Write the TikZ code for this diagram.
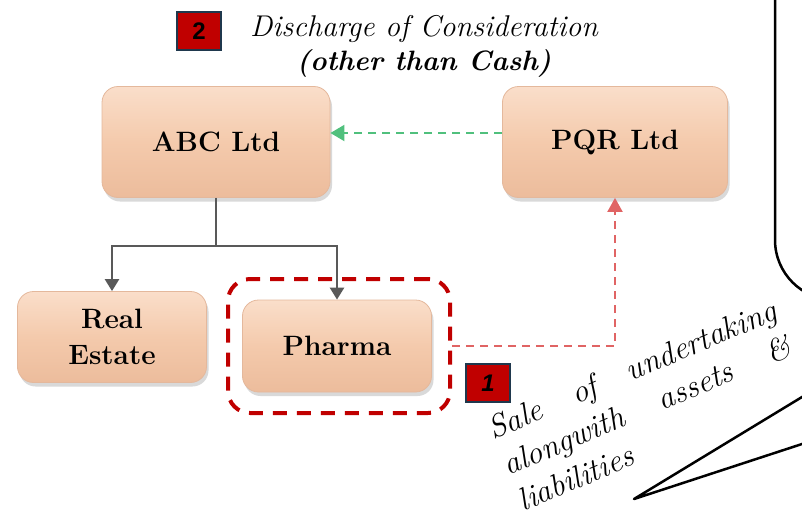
\documentclass[tikz,border=0pt]{standalone}
\usepackage{fontspec}
\newfontfamily\arialfont{Liberation Sans}
\usetikzlibrary{arrows.meta,shadows,calc}
\definecolor{peachtop}{RGB}{250,222,202}
\definecolor{peachmid}{RGB}{244,202,172}
\definecolor{peachbot}{RGB}{236,188,156}
\definecolor{peachedge}{RGB}{228,184,156}
\definecolor{darkred}{RGB}{192,0,0}
\definecolor{badgeborder}{RGB}{31,56,77}
\definecolor{connGrey}{RGB}{89,89,89}
\definecolor{greenArrow}{RGB}{80,192,125}
\definecolor{pinkArrow}{RGB}{224,100,100}
\begin{document}
\begin{tikzpicture}[x=1pt,y=-1pt,
  entity/.style={rounded corners=16pt, top color=peachtop, bottom color=peachbot,
    middle color=peachmid, draw=peachedge, line width=0.8pt,
    font=\fontsize{28}{36}\selectfont\bfseries, align=center, inner sep=0pt,
    drop shadow={shadow xshift=2pt, shadow yshift=-4pt, opacity=0.3}},
  badge/.style={fill=darkred, draw=badgeborder, line width=2pt,
    minimum width=44pt, minimum height=38pt, inner sep=0pt},
  treeconn/.style={draw=connGrey, line width=2.5pt,
    -{Triangle[width=14pt,length=12pt]}},
  greenconn/.style={draw=greenArrow, line width=2pt, dash pattern=on 8pt off 6pt,
    -{Triangle[width=16pt,length=14pt]}},
  pinkconn/.style={draw=pinkArrow, line width=2pt, dash pattern=on 8pt off 6pt,
    -{Triangle[width=15pt,length=14pt]}},
  groupbox/.style={draw=darkred, line width=4pt, dash pattern=on 14pt off 10pt,
    rounded corners=22pt, minimum width=222pt, minimum height=134pt, inner sep=0pt},
  calloutline/.style={draw=black, line width=2.5pt, line join=round}
]
\useasboundingbox (0,0) rectangle (802,515);
\begin{scope}
\clip (0,0) rectangle (802,515);
% callout shape
\draw[calloutline, rounded corners=60pt] (775,-20) -- (775,300) -- (900,300);
\coordinate (tip) at (634,499);
\draw[calloutline] ($(tip)!2!(802,397)$) -- (tip) -- ($(tip)!2!(802,444)$);

% entities
\node[entity, minimum width=228pt, minimum height=111pt] (abc) at (216,142) {ABC Ltd};
\node[entity, minimum width=225pt, minimum height=111pt] (pqr) at (615,142) {PQR Ltd};
\node[entity, minimum width=189pt, minimum height=91pt] (re) at (112,337) {Real\\Estate};
\node[entity, minimum width=189pt, minimum height=92pt] (ph) at (337,346) {Pharma};
\node[groupbox] (grp) at (339,346) {};

% tree connectors
\coordinate (split) at (abc.south |- 0,246);
\draw[draw=connGrey, line width=2.5pt] (abc.south) -- (split);
\draw[treeconn] (split) -| (re.north);
\draw[treeconn] (split) -| (ph.north);

% consideration arrows
\draw[greenconn] ([yshift=9pt]pqr.west) -- ([yshift=9pt]abc.east);
\draw[pinkconn] (grp.east) -| (pqr.south);

% badges
\node[badge] (b2) at (199,31) {\arialfont\bfseries\fontsize{24}{24}\selectfont 2};
\node[badge] (b1) at (488,383) {\arialfont\bfseries\itshape\fontsize{24}{24}\selectfont 1};

% titles
\node[font=\fontsize{30}{36}\selectfont\itshape, anchor=base] (t1) at (424,36) {Discharge of Consideration};
\node[font=\fontsize{28}{34}\selectfont\bfseries\itshape, anchor=base] (t2) at (424,70) {(other than Cash)};

% rotated description
\node[rotate=23, anchor=base west, inner sep=0pt, text width=310pt, align=justify,
  font=\fontsize{32}{39}\selectfont\itshape] (desc) at (493,440)
  {\hyphenpenalty=10000 Sale of undertaking\linebreak alongwith assets \&\linebreak liabilities};
\end{scope}
\end{tikzpicture}
\end{document}
